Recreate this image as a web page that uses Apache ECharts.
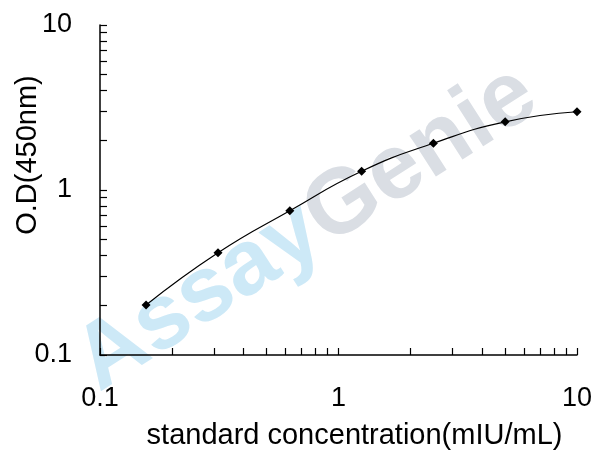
<!DOCTYPE html>
<html>
<head>
<meta charset="utf-8">
<script src="https://cdn.jsdelivr.net/npm/echarts@6/dist/echarts.min.js"></script>
<style>
  html, body { margin: 0; padding: 0; background: #fff; }
  #chart { width: 608px; height: 461px; }
</style>
</head>
<body>
<div id="chart"></div>
<script>
// standard curve data
const concentrations = [0.156, 0.3125, 0.625, 1.25, 2.5, 5, 10]
const odValues = [0.201, 0.417, 0.749, 1.30, 1.92, 2.59, 2.98]

// tick positions on both log axes
const logTicks = [0.1, 0.2, 0.3, 0.4, 0.5, 0.6, 0.7, 0.8, 0.9, 1, 2, 3, 4, 5, 6, 7, 8, 9, 10]
const decadeLabels = [0.1, 1, 10]

const font = 'Liberation Sans, Arial, sans-serif'

const chart = echarts.init(document.getElementById('chart'))

const axisCommon = {
  type: 'log',
  logBase: 10,
  min: 0.1,
  max: 10,
  nameLocation: 'middle',
  nameMoveOverlap: false,
  axisLine: { show: true, lineStyle: { color: '#000', width: 1.5 } },
  axisTick: { show: true, inside: true, length: 7, customValues: logTicks, lineStyle: { color: '#000', width: 1.2 } },
  axisLabel: {
    customValues: decadeLabels,
    color: '#000',
    fontFamily: font,
    fontSize: 27,
    formatter: (v) => String(v)
  },
  splitLine: { show: false },
  nameTextStyle: { color: '#000', fontFamily: font, fontSize: 29 }
}

const option = {
  animation: false,
  backgroundColor: '#fff',
  grid: { left: 100, right: 31, top: 25, bottom: 106, containLabel: false, outerBoundsMode: 'none' },
  graphic: [
    {
      type: 'text',
      z: -10,
      x: 307,
      y: 229,
      rotation: 0.57,
      style: {
        text: '{a|Assay}{g|Genie}',
        align: 'center',
        verticalAlign: 'middle',
        rich: {
          a: { fontFamily: font, fontWeight: 'bold', fontSize: 92, fill: '#cde9f7' },
          g: { fontFamily: font, fontWeight: 'bold', fontSize: 92, fill: '#dadee4' }
        }
      }
    }
  ],
  xAxis: {
    ...axisCommon,
    name: 'standard concentration(mIU/mL)',
    nameGap: 66,
    nameTextStyle: { ...axisCommon.nameTextStyle, padding: [0, 0, 0, 32] },
    axisLabel: { ...axisCommon.axisLabel, margin: 30 }
  },
  yAxis: {
    ...axisCommon,
    name: 'O.D(450nm)',
    nameGap: 58,
    nameTextStyle: { ...axisCommon.nameTextStyle, padding: [0, 0, 0, 70] },
    axisLabel: { ...axisCommon.axisLabel, margin: 28 }
  },
  series: [
    {
      type: 'line',
      data: concentrations.map((c, i) => [c, odValues[i]]),
      smooth: true,
      symbol: 'diamond',
      symbolSize: 9,
      lineStyle: { color: '#000', width: 1.2 },
      itemStyle: { color: '#000' }
    }
  ]
}

chart.setOption(option)
</script>
</body>
</html>
